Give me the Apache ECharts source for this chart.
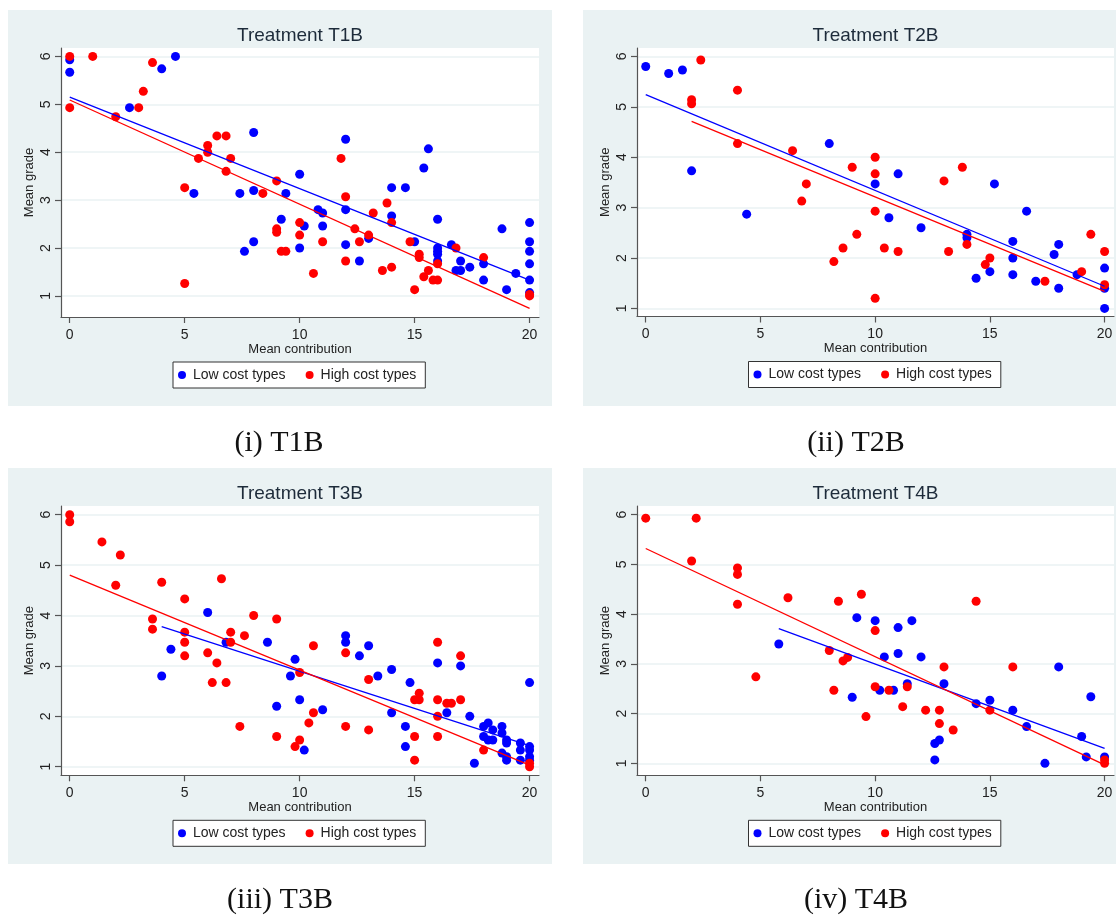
<!DOCTYPE html>
<html>
<head>
<meta charset="utf-8">
<title>Mean grade vs mean contribution</title>
<script src="https://cdn.jsdelivr.net/npm/echarts@6.0.0/dist/echarts.min.js"></script>
<style>
    html, body { margin: 0; padding: 0; background: #fff; }
    #chart { width: 1116px; height: 919px; }
</style>
</head>
<body>
<div id="chart"></div>
<script>
// values: [mean contribution, mean grade]
const t1Low = [[0,5.93],[0,5.67],[2.6,4.93],[4,5.74],[4.6,6],[5.4,3.14],[7.4,3.14],[8,4.41],[8,3.2],[8,2.13],[7.6,1.93],[9.2,2.6],[9.4,3.14],[10,3.54],[10,2],[10.2,2.46],[10.8,2.8],[11,2.73],[11,2.46],[12,4.27],[12,2.8],[12,2.07],[12.6,1.73],[13,2.2],[14,3.26],[14,2.67],[14.6,3.26],[15,2.13],[15.4,3.67],[15.6,4.07],[16,2.6],[16,2],[16,1.93],[16,1.87],[16,1.73],[16.6,2.07],[16.8,1.53],[17,1.73],[17,1.53],[17.4,1.6],[18,1.67],[18,1.33],[18.8,2.4],[19,1.13],[19.4,1.47],[20,2.53],[20,2.13],[20,1.93],[20,1.67],[20,1.33],[20,1.07]];
const t1High = [[0,6],[0,4.93],[1,6],[2,4.74],[3,4.93],[3.2,5.27],[3.6,5.87],[5,3.26],[5,1.26],[5.6,3.87],[6,4.14],[6,4],[6.4,4.34],[6.8,4.34],[6.8,3.6],[7,3.87],[8.4,3.14],[9,3.4],[9,2.4],[9,2.33],[9.2,1.93],[9.4,1.93],[10,2.53],[10,2.27],[10.6,1.47],[11,2.13],[11.8,3.87],[12,3.07],[12,1.73],[12.4,2.4],[12.6,2.13],[13,2.27],[13.2,2.73],[13.6,1.53],[13.8,2.94],[14,2.53],[14,1.6],[14.8,2.13],[15,1.13],[15.2,1.87],[15.2,1.8],[15.4,1.4],[15.6,1.53],[15.8,1.33],[16,1.33],[16,1.67],[16.8,2],[18,1.8],[20,1.03],[20,1]];
const t1LowFit = [[0,5.15],[20,1.33]];
const t1HighFit = [[0,5.09],[20,0.74]];

const t2Low = [[0,5.8],[1,5.66],[1.6,5.73],[2,3.73],[4.4,2.87],[8,4.27],[10,3.47],[11,3.67],[10.6,2.8],[12,2.6],[14,2.47],[14,2.4],[14.4,1.6],[15,1.73],[15.2,3.47],[16,2.33],[16,2],[16,1.67],[16.6,2.93],[17,1.54],[17.8,2.07],[18,2.27],[18,1.4],[18.8,1.67],[20,1.8],[20,1.4],[20,1]];
const t2High = [[2.4,5.93],[2,5.14],[2,5.06],[4,5.33],[4,4.27],[6.4,4.13],[7,3.47],[6.8,3.13],[8.2,1.93],[8.6,2.2],[9,3.8],[9.2,2.47],[10,4],[10,3.67],[10,2.93],[10,1.2],[10.4,2.2],[11,2.13],[13,3.53],[13.2,2.13],[13.8,3.8],[14,2.27],[14.8,1.87],[15,2],[17.4,1.54],[19,1.73],[19.4,2.47],[20,2.13],[20,1.47]];
const t2LowFit = [[0,5.24],[20,1.44]];
const t2HighFit = [[2,4.71],[20,1.34]];

const t3Low = [[4,2.8],[4.4,3.33],[6,4.06],[6.8,3.47],[8.6,3.47],[9,2.2],[9.6,2.8],[9.8,3.13],[10,2.33],[10.2,1.33],[11,2.13],[12,3.6],[12,3.47],[12.6,3.2],[13,3.4],[13.4,2.8],[14,2.93],[14,2.07],[14.6,1.8],[14.6,1.4],[14.8,2.67],[16,3.06],[16.4,2.07],[17,3],[17.4,2],[17.6,1.07],[18,1.8],[18.2,1.87],[18.4,1.73],[18,1.6],[18.2,1.53],[18.4,1.53],[18.8,1.8],[18.8,1.67],[19,1.53],[19,1.47],[18.8,1.27],[19,1.2],[19,1.13],[19.6,1.47],[19.6,1.33],[19.6,1.13],[20,2.67],[20,1.4],[20,1.33],[20,1.2],[20,1.13]];
const t3High = [[0,6],[0,5.86],[1.4,5.46],[2.2,5.2],[2,4.6],[4,4.66],[3.6,3.93],[3.6,3.73],[5,4.33],[5,3.67],[5,3.47],[5,3.2],[6.6,4.73],[6,3.26],[6.4,3.06],[6.2,2.67],[6.8,2.67],[7,3.67],[7,3.47],[7.6,3.6],[7.4,1.8],[8,4],[9,3.93],[9,1.6],[10.6,3.4],[10,2.87],[10.6,2.07],[10.4,1.87],[10,1.53],[9.8,1.4],[12,3.26],[12,1.8],[13,2.73],[13,1.73],[15,2.33],[15.2,2.46],[15.2,2.33],[15,1.6],[15,1.13],[16,3.47],[16,2.33],[16,2],[16,1.6],[16.4,2.26],[16.6,2.26],[17,3.2],[17,2.33],[18,1.33],[20,1.07],[20,1]];
const t3LowFit = [[4,3.78],[20,1.42]];
const t3HighFit = [[0,4.8],[20,1.03]];

const t4Low = [[5.8,3.4],[9,2.33],[9.2,3.93],[10,3.87],[10.4,3.14],[10.2,2.47],[10.8,2.47],[11,3.73],[11,3.21],[11.6,3.87],[11.4,2.6],[12,3.14],[12.6,1.4],[12.8,1.47],[12.6,1.07],[13,2.6],[14.4,2.2],[15,2.27],[16,2.07],[16.6,1.74],[17.4,1],[18,2.94],[19,1.54],[19.2,1.13],[19.4,2.34],[20,1.13]];
const t4High = [[0,5.93],[2.2,5.93],[2,5.07],[4,4.93],[4,4.8],[4,4.2],[4.8,2.74],[6.2,4.33],[8.4,4.26],[8,3.27],[8.6,3.06],[8.8,3.13],[8.2,2.47],[9.4,4.4],[10,3.67],[10,2.54],[9.6,1.94],[10.6,2.47],[11.2,2.14],[11.4,2.54],[12.2,2.07],[12.8,2.07],[12.8,1.8],[13,2.94],[13.4,1.67],[14.4,4.26],[15,2.07],[16,2.94],[20,1.07],[20,1]];
const t4LowFit = [[5.8,3.71],[20,1.3]];
const t4HighFit = [[0,5.32],[20,0.97]];

const xTicks = [0, 5, 10, 15, 20];
const yTicks = [1, 2, 3, 4, 5, 6];
const xRange = [-0.38, 20.41];
const yRanges = [[0.56, 6.175], [0.84, 6.167], [0.83, 6.173], [0.76, 6.175]];
const titles = ['Treatment T1B', 'Treatment T2B', 'Treatment T3B', 'Treatment T4B'];
const captions = ['(i) T1B', '(ii) T2B', '(iii) T3B', '(iv) T4B'];
const legendNames = ['Low cost types', 'High cost types'];

const lowData = [t1Low, t2Low, t3Low, t4Low];
const highData = [t1High, t2High, t3High, t4High];
const lowFits = [t1LowFit, t2LowFit, t3LowFit, t4LowFit];
const highFits = [t1HighFit, t2HighFit, t3HighFit, t4HighFit];

// layout (px)
const grids = [
    { left: 61, top: 48, width: 478, height: 269 },
    { left: 637, top: 48, width: 477, height: 268.5 },
    { left: 61, top: 506, width: 478, height: 269.3 },
    { left: 637, top: 506, width: 477, height: 269.3 }
];
const panelBoxes = [
    { x: 8, y: 10, width: 544, height: 396 },
    { x: 583, y: 10, width: 540, height: 396 },
    { x: 8, y: 468, width: 544, height: 396 },
    { x: 583, y: 468, width: 540, height: 396 }
];
const captionPos = [[279, 443], [856, 443], [280, 900], [856, 900]];

const SANS = '"Liberation Sans", Arial, sans-serif';
const TEXT = '#222';
const AXIS = '#555';
const BG = '#eaf2f3';
const BLUE = '#0000ff';
const RED = '#ff0000';

const chart = echarts.init(document.getElementById('chart'), null, { renderer: 'canvas' });

const series = [];
lowData.forEach((_, i) => {
    series.push({
        type: 'scatter', name: legendNames[0], xAxisIndex: i, yAxisIndex: i,
        data: lowData[i], symbolSize: 9, itemStyle: { color: BLUE, opacity: 1 }
    });
    series.push({
        type: 'scatter', name: legendNames[1], xAxisIndex: i, yAxisIndex: i,
        data: highData[i], symbolSize: 9, itemStyle: { color: RED, opacity: 1 }
    });
    series.push({
        type: 'line', name: 'low fit ' + i, xAxisIndex: i, yAxisIndex: i,
        data: lowFits[i], symbol: 'none', silent: true,
        lineStyle: { color: BLUE, width: 1.3 }
    });
    series.push({
        type: 'line', name: 'high fit ' + i, xAxisIndex: i, yAxisIndex: i,
        data: highFits[i], symbol: 'none', silent: true,
        lineStyle: { color: RED, width: 1.3 }
    });
});

chart.setOption({
    animation: false,
    backgroundColor: '#fff',
    textStyle: { fontFamily: SANS },
    title: titles.map((t, i) => ({
        text: t,
        left: grids[i].left + grids[i].width / 2,
        top: grids[i].top - 22,
        textAlign: 'center',
        padding: 0,
        textStyle: { fontSize: 19, fontWeight: 'normal', color: '#1d2b3a', fontFamily: SANS }
    })),
    legend: grids.map((g, i) => ({
        data: legendNames,
        left: g.left + g.width / 2 - 127,
        top: g.top + g.height + 45,
        orient: 'horizontal',
        icon: 'circle',
        itemWidth: 8,
        itemHeight: 8,
        itemGap: 20,
        padding: [6, 9, 6, 5],
        backgroundColor: '#fff',
        borderColor: '#333',
        borderWidth: 1,
        borderRadius: 0,
        selectedMode: false,
        textStyle: { fontSize: 14, color: TEXT, fontFamily: SANS, padding: [0, 0, 0, 2] }
    })),
    grid: grids.map(g => ({
        left: g.left, top: g.top, width: g.width, height: g.height,
        show: true, backgroundColor: '#fff', borderWidth: 0,
        containLabel: false, outerBoundsMode: 'none'
    })),
    xAxis: grids.map((g, i) => ({
        gridIndex: i, type: 'value', min: xRange[0], max: xRange[1],
        name: 'Mean contribution', nameLocation: 'middle', nameGap: 23,
        nameTextStyle: { fontSize: 13, color: TEXT, fontFamily: SANS },
        axisLine: { show: true, onZero: false, lineStyle: { color: AXIS, width: 1.2 } },
        axisTick: { show: true, length: 6, customValues: xTicks, lineStyle: { color: AXIS, width: 1.2 } },
        axisLabel: { customValues: xTicks, fontSize: 14, color: TEXT, margin: 11, fontFamily: SANS },
        splitLine: { show: false }
    })),
    yAxis: grids.map((g, i) => ({
        gridIndex: i, type: 'value', min: yRanges[i][0], max: yRanges[i][1],
        name: 'Mean grade', nameLocation: 'middle', nameGap: 25,
        nameTextStyle: { fontSize: 13, color: TEXT, fontFamily: SANS },
        axisLine: { show: true, onZero: false, lineStyle: { color: AXIS, width: 1.2 } },
        axisTick: { show: true, length: 6, customValues: yTicks, lineStyle: { color: AXIS, width: 1.2 } },
        axisLabel: { customValues: yTicks, rotate: 90, fontSize: 14, color: TEXT, margin: 8, fontFamily: SANS },
        splitLine: { show: true, lineStyle: { color: BG, width: 1.5 } }
    })),
    graphic: [
        ...panelBoxes.map(b => ({
            type: 'rect', z: -10, silent: true,
            shape: { x: b.x, y: b.y, width: b.width, height: b.height },
            style: { fill: BG }
        })),
        ...captions.map((c, i) => ({
            type: 'text', silent: true,
            x: captionPos[i][0], y: captionPos[i][1],
            style: {
                text: c, align: 'center', verticalAlign: 'middle',
                font: '30px "Liberation Serif", "Times New Roman", serif', fill: '#111'
            }
        }))
    ],
    series: series
});
</script>
</body>
</html>
